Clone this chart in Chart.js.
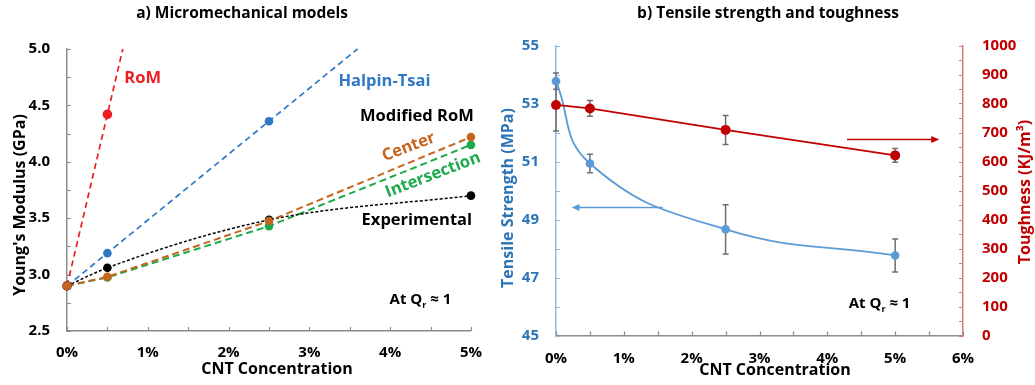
<!DOCTYPE html>
<html>
<head>
<meta charset="utf-8">
<script src="https://cdn.jsdelivr.net/npm/chart.js@4.4.0/dist/chart.umd.min.js"></script>
<style>
  html, body { margin: 0; padding: 0; background: #fff; }
  #wrap { position: relative; width: 1035px; height: 385px; overflow: hidden; background: #fff; }
  #chartA { position: absolute; left: 0; top: 0; width: 495px; height: 385px; }
  #chartB { position: absolute; left: 495px; top: 0; width: 540px; height: 385px; }
</style>
</head>
<body>
<div id="wrap">
  <canvas id="chartA" width="495" height="385"></canvas>
  <canvas id="chartB" width="540" height="385"></canvas>
</div>
<script>
// ---------- a) Micromechanical models: Young's modulus (GPa) vs CNT wt% ----------
const cntConc = [0, 0.5, 2.5, 5];
const romConc = [0, 0.5];
const romModulus = [2.9, 4.42];
const halpinConc = [0, 0.5, 2.5];
const halpinModulus = [2.9, 3.19, 4.36];
const centerModulus = [2.9, 2.98, 3.475, 4.22];
const intersectionModulus = [2.9, 2.975, 3.43, 4.15];
const experimentalModulus = [2.9, 3.06, 3.485, 3.70];

// ---------- b) Tensile strength (MPa) and toughness (KJ/m3) ----------
const testConc = [0, 0.5, 2.5, 5];
const tensileStrength = [53.77, 50.93, 48.66, 47.76];
const tensileErr = [0.28, 0.32, 0.85, 0.57];
const toughness = [795, 783, 709, 621];
const toughnessErr = [90, 27, 50, 24];

// axis ranges and tick labels
const modulusRange = [2.5, 5.0];
const concRangeA = [0, 5];
const concRangeB = [0, 6];
const strengthRange = [45, 55];
const toughnessRange = [0, 1000];
const pctLabel = v => (Math.abs(v - Math.round(v)) < 1e-6 ? Math.round(v) + '%' : '');

const FONT = '"Open Sans", Lato, "Liberation Sans", sans-serif';
const COL = {
  rom: '#EE1D23', halpin: '#2E78C6', center: '#C5651E', inter: '#1DAA4B', exp: '#000000',
  axis: '#8C8C8C', blueLine: '#5B9BD5', blueText: '#2E75B6', red: '#C00000',
  blueAxis: '#92B8E0', redAxis: '#DB7A7A', err: '#6E6E6E'
};

const pts = (xs, ys) => xs.map((x, i) => ({ x, y: ys[i] }));

// least-squares line through the points, run until it reaches yTop
function trendToTop(xs, ys, yTop) {
  const n = xs.length;
  const mx = xs.reduce((a, b) => a + b, 0) / n;
  const my = ys.reduce((a, b) => a + b, 0) / n;
  let sxy = 0, sxx = 0;
  xs.forEach((x, i) => { sxy += (x - mx) * (ys[i] - my); sxx += (x - mx) * (x - mx); });
  const m = sxy / sxx, b = my - m * mx;
  return [{ x: xs[0], y: m * xs[0] + b }, { x: (yTop - b) / m, y: yTop }];
}

// short tick marks pointing into the plot area
const innerTicks = {
  id: 'innerTicks',
  beforeDatasetsDraw(chart, args, opts) {
    const ctx = chart.ctx;
    ctx.save();
    Object.entries(opts.scales || {}).forEach(([id, cfg]) => {
      const s = chart.scales[id];
      if (!s) return;
      ctx.strokeStyle = cfg.color; ctx.lineWidth = 1.2;
      ctx.beginPath();
      s.ticks.forEach(t => {
        const p = Math.round(s.getPixelForValue(t.value)) + 0.5;
        if (s.isHorizontal()) { ctx.moveTo(p, s.top); ctx.lineTo(p, s.top - cfg.len); }
        else if (s.position === 'left') { ctx.moveTo(s.right, p); ctx.lineTo(s.right + cfg.len, p); }
        else { ctx.moveTo(s.left, p); ctx.lineTo(s.left - cfg.len, p); }
      });
      ctx.stroke();
    });
    ctx.restore();
  }
};

// vertical error bars with caps, read from dataset.errorBars
const errorBars = {
  id: 'errorBars',
  beforeDatasetsDraw(chart) {
    const ctx = chart.ctx;
    ctx.save();
    chart.data.datasets.forEach(ds => {
      if (!ds.errorBars) return;
      const ys = chart.scales[ds.yAxisID || 'y'];
      const xs = chart.scales.x;
      ctx.strokeStyle = COL.err; ctx.lineWidth = 1.5;
      ds.data.forEach((d, i) => {
        const e = ds.errorBars[i];
        if (!e) return;
        const px = xs.getPixelForValue(d.x);
        const top = ys.getPixelForValue(d.y + e), bot = ys.getPixelForValue(d.y - e);
        ctx.beginPath();
        ctx.moveTo(px, top); ctx.lineTo(px, bot);
        ctx.moveTo(px - 3, top); ctx.lineTo(px + 3, top);
        ctx.moveTo(px - 3, bot); ctx.lineTo(px + 3, bot);
        ctx.stroke();
      });
    });
    ctx.restore();
  }
};

function drawQr(ctx, cx, cy, size, color) {
  const f = s => `bold ${s}px ${FONT}`;
  const a = 'At Q', r = 'r', b = ' \u2248 1';
  ctx.font = f(size); const wa = ctx.measureText(a).width, wb = ctx.measureText(b).width;
  ctx.font = f(size * 0.6); const wr = ctx.measureText(r).width;
  let x = cx - (wa + wr + wb) / 2;
  ctx.fillStyle = color; ctx.textBaseline = 'middle'; ctx.textAlign = 'left';
  ctx.font = f(size); ctx.fillText(a, x, cy); x += wa;
  ctx.font = f(size * 0.6); ctx.fillText(r, x, cy + size * 0.38); x += wr;
  ctx.font = f(size); ctx.fillText(b, x, cy);
}

// titles, axis titles and in-plot labels
const textLayer = {
  id: 'textLayer',
  afterDraw(chart, args, opts) {
    const ctx = chart.ctx;
    (opts.items || []).forEach(it => {
      let x = it.px, y = it.py;
      if (it.x !== undefined) {
        x = chart.scales.x.getPixelForValue(it.x);
        y = chart.scales[it.axis || 'y'].getPixelForValue(it.y);
      }
      ctx.save();
      if (it.qr) { drawQr(ctx, x, y, it.size, it.color); ctx.restore(); return; }
      ctx.translate(x, y);
      if (it.rot) ctx.rotate(it.rot * Math.PI / 180);
      ctx.font = `bold ${it.size}px ${FONT}`;
      ctx.fillStyle = it.color;
      ctx.textAlign = it.align || 'center';
      ctx.textBaseline = 'middle';
      ctx.fillText(it.text, 0, 0);
      ctx.restore();
    });
    (opts.arrows || []).forEach(a => {
      const ys = chart.scales[a.axis];
      const x1 = chart.scales.x.getPixelForValue(a.from), x2 = chart.scales.x.getPixelForValue(a.to);
      const y = Math.round(ys.getPixelForValue(a.y)) + 0.5;
      const dir = Math.sign(x2 - x1);
      ctx.save();
      ctx.strokeStyle = a.color; ctx.fillStyle = a.color; ctx.lineWidth = 1.6;
      ctx.beginPath(); ctx.moveTo(x1, y); ctx.lineTo(x2 - dir * 5, y); ctx.stroke();
      ctx.beginPath(); ctx.moveTo(x2, y); ctx.lineTo(x2 - dir * 8, y - 3.5); ctx.lineTo(x2 - dir * 8, y + 3.5); ctx.closePath(); ctx.fill();
      ctx.restore();
    });
  }
};

const baseTicks = (color, padding) => ({
  color, padding, autoSkip: false, maxRotation: 0, font: { family: FONT, size: 15, weight: 'bold' }
});
const noGrid = { display: false, drawTicks: false };

// ---------------- Chart a) ----------------
const lineSet = (label, data, color, dash, width, extra) => Object.assign({
  label, data, borderColor: color, backgroundColor: color, borderWidth: width,
  borderDash: dash, pointRadius: 0, tension: 0, clip: false, fill: false
}, extra || {});
const dotSet = (label, data, color, r) => ({
  label, data, showLine: false, pointRadius: r, pointBorderWidth: 0,
  pointBackgroundColor: color, borderColor: color, clip: false
});

new Chart(document.getElementById('chartA'), {
  type: 'line',
  data: {
    datasets: [
      dotSet('Center', pts(cntConc, centerModulus), COL.center, 4.3),
      dotSet('Experimental', pts(cntConc, experimentalModulus), COL.exp, 4.3),
      dotSet('Intersection', pts(cntConc, intersectionModulus), COL.inter, 4.3),
      dotSet('Halpin-Tsai', pts(halpinConc, halpinModulus), COL.halpin, 4.3),
      dotSet('RoM', pts(romConc, romModulus), COL.rom, 4.8),
      lineSet('Center line', pts(cntConc, centerModulus), COL.center, [7, 4], 2),
      lineSet('Experimental line', pts(cntConc, experimentalModulus), COL.exp, [3, 2], 1.5, { cubicInterpolationMode: 'monotone' }),
      lineSet('Intersection line', pts(cntConc, intersectionModulus), COL.inter, [7, 4], 2),
      lineSet('Halpin-Tsai trend', trendToTop(halpinConc, halpinModulus, modulusRange[1]), COL.halpin, [6, 4], 1.7),
      lineSet('RoM trend', trendToTop(romConc, romModulus, modulusRange[1]), COL.rom, [6, 4], 1.7)
    ]
  },
  options: {
    responsive: false, animation: false, events: [],
    layout: { padding: { top: 49, right: 20, left: 0, bottom: 0 } },
    plugins: {
      legend: { display: false }, tooltip: { enabled: false },
      innerTicks: { scales: { x: { len: 4, color: COL.axis }, y: { len: 4, color: COL.axis } } },
      textLayer: {
        items: [
          { text: 'a) Micromechanical models', px: 242, py: 14, size: 15.5, color: '#000' },
          { text: "Young's Modulus (GPa)", px: 20, py: 205, size: 16, color: '#000', rot: -90 },
          { text: 'CNT Concentration', px: 277, py: 369, size: 16, color: '#000' },
          { text: 'RoM', x: 0.71, y: 4.743, align: 'left', size: 16.5, color: COL.rom },
          { text: 'Halpin-Tsai', x: 3.36, y: 4.716, align: 'left', size: 16.5, color: COL.halpin },
          { text: 'Modified RoM', x: 4.33, y: 4.406, size: 16.5, color: '#000' },
          { text: 'Center', x: 4.23, y: 4.131, size: 16.5, color: COL.center, rot: -21 },
          { text: 'Intersection', x: 4.53, y: 3.883, size: 16.5, color: COL.inter, rot: -21 },
          { text: 'Experimental', x: 4.33, y: 3.484, size: 16.5, color: '#000' },
          { qr: true, x: 4.375, y: 2.775, size: 15, color: '#000' }
        ]
      }
    },
    scales: {
      x: {
        type: 'linear', min: concRangeA[0], max: concRangeA[1],
        grid: noGrid, border: { color: COL.axis, width: 1.5 },
        ticks: Object.assign(baseTicks('#000', 13), { stepSize: 0.5, callback: pctLabel }),
        afterFit: s => { s.height = 54; }
      },
      y: {
        type: 'linear', min: modulusRange[0], max: modulusRange[1],
        grid: noGrid, border: { color: COL.axis, width: 1.5 },
        ticks: Object.assign(baseTicks('#000', 17), {
          stepSize: 0.25,
          callback: v => (Math.abs(v * 2 - Math.round(v * 2)) < 1e-6 ? v.toFixed(1) : '')
        }),
        afterFit: s => { s.width = 67; }
      }
    }
  },
  plugins: [innerTicks, textLayer]
});

// ---------------- Chart b) ----------------
new Chart(document.getElementById('chartB'), {
  type: 'line',
  data: {
    datasets: [
      {
        label: 'Toughness', yAxisID: 'y2', data: pts(testConc, toughness), errorBars: toughnessErr,
        borderColor: COL.red, backgroundColor: COL.red, borderWidth: 1.8, tension: 0,
        pointRadius: 5, pointBorderWidth: 0, pointBackgroundColor: COL.red, clip: false
      },
      {
        label: 'Tensile strength', yAxisID: 'y', data: pts(testConc, tensileStrength), errorBars: tensileErr,
        borderColor: COL.blueLine, backgroundColor: COL.blueLine, borderWidth: 1.8, tension: 0.45,
        pointRadius: 4.3, pointBorderWidth: 0, pointBackgroundColor: COL.blueLine, clip: false
      }
    ]
  },
  options: {
    responsive: false, animation: false, events: [],
    layout: { padding: { top: 45.5, right: 0, left: 0, bottom: 0 } },
    plugins: {
      legend: { display: false }, tooltip: { enabled: false },
      innerTicks: {
        scales: {
          x: { len: 4, color: COL.axis },
          y: { len: 4, color: COL.blueAxis },
          y2: { len: 4, color: COL.redAxis }
        }
      },
      textLayer: {
        items: [
          { text: 'b) Tensile strength and toughness', px: 273, py: 14, size: 15.5, color: '#000' },
          { text: 'Tensile Strength (MPa)', px: 13.5, py: 198, size: 16, color: COL.blueText, rot: -90 },
          { text: 'Toughness (KJ/m\u00B3)', px: 530, py: 192, size: 16, color: COL.red, rot: -90 },
          { text: 'CNT Concentration', px: 280, py: 370, size: 16, color: '#000' },
          { qr: true, x: 4.77, y: 46.09, size: 15, color: '#000' }
        ],
        arrows: [
          { axis: 'y', y: 49.44, from: 1.573, to: 0.229, color: COL.blueLine },
          { axis: 'y2', y: 677, from: 4.29, to: 5.65, color: COL.red }
        ]
      }
    },
    scales: {
      x: {
        type: 'linear', min: concRangeB[0], max: concRangeB[1],
        grid: noGrid, border: { color: COL.axis, width: 1.5 },
        ticks: Object.assign(baseTicks('#000', 14), { stepSize: 0.5, callback: pctLabel }),
        afterFit: s => { s.height = 49.5; }
      },
      y: {
        type: 'linear', position: 'left', min: strengthRange[0], max: strengthRange[1],
        grid: noGrid, border: { color: COL.blueAxis, width: 1.5 },
        ticks: Object.assign(baseTicks(COL.blueText, 17), {
          stepSize: 1, callback: v => (Math.round(v) % 2 === 1 ? String(v) : '')
        }),
        afterFit: s => { s.width = 61; }
      },
      y2: {
        type: 'linear', position: 'right', min: toughnessRange[0], max: toughnessRange[1],
        grid: noGrid, border: { color: COL.redAxis, width: 1.5 },
        ticks: Object.assign(baseTicks(COL.red, 19), {
          stepSize: 50, callback: v => (Math.round(v) % 100 === 0 ? String(v) : '')
        }),
        afterFit: s => { s.width = 72; }
      }
    }
  },
  plugins: [errorBars, innerTicks, textLayer]
});
</script>
</body>
</html>
